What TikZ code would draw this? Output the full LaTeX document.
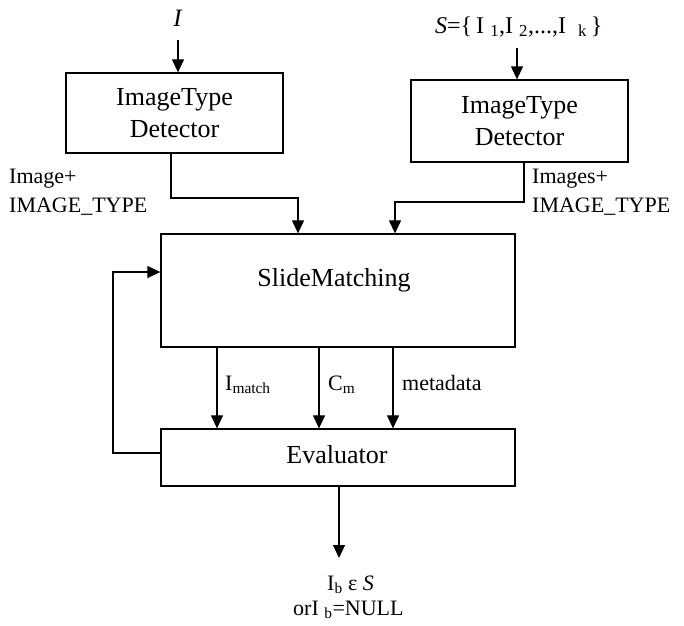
\documentclass[tikz,border=0pt]{standalone}
\usepackage{fontspec}
\setmainfont{Liberation Serif}
\usetikzlibrary{arrows.meta}
\begin{document}
\begin{tikzpicture}[x=1pt,y=-1pt,
  box/.style={draw, line width=1.3pt, inner sep=0pt, align=center, font=\fontsize{26}{32}\selectfont},
  lab/.style={inner sep=0pt, font=\fontsize{22}{28}\selectfont},
  big/.style={inner sep=0pt, font=\fontsize{26}{32}\selectfont},
  arr/.style={line width=1.2pt, -{Triangle[width=12pt,length=13pt]}}]
\useasboundingbox (0,0) rectangle (684,625);
% boxes
\node[box, minimum width=217pt, minimum height=80pt] (det1) at (174.5,113) {ImageType\\Detector};
\node[box, minimum width=217pt, minimum height=82pt] (det2) at (519.5,121) {ImageType\\Detector};
\node[box, minimum width=354pt, minimum height=113pt] (sm) at (338,290.5) {};
\node[big, anchor=base] (smt) at (334,286) {SlideMatching};
\node[box, minimum width=354pt, minimum height=57pt] (ev) at (338,457.5) {};
\node[big, anchor=base] (evt) at (337,463) {Evaluator};
% inputs
\node[lab, anchor=base, font=\fontsize{25}{28}\selectfont] (Ilab) at (178,26) {\textit{I}};
\coordinate (Ist) at (178,40);
\draw[arr] (Ist) -- (Ist |- det1.north);
\node[lab, anchor=base west, font=\fontsize{24}{28}\selectfont] (Slab) at (435,33) {\textit{S}=\{\,I\hspace{6pt}\textsubscript{1},I\hspace{6pt}\textsubscript{2},...,I\hspace{12pt}\textsubscript{k}\,\}};
\coordinate (Sst) at (517,48);
\draw[arr] (Sst) -- (Sst |- det2.north);
% detector outputs
\coordinate (d1o) at (171,153);
\coordinate (d1k) at (171,198);
\coordinate (d1e) at (298,198);
\draw[arr] (d1o) -- (d1k) -- (d1e) -- (d1e |- sm.north);
\coordinate (d2o) at (524,162);
\coordinate (d2k) at (524,202);
\coordinate (d2e) at (395,202);
\draw[arr] (d2o) -- (d2k) -- (d2e) -- (d2e |- sm.north);
\node[lab, anchor=base west] (l1a) at (9,183) {Image+};
\node[lab, anchor=base west] (l1b) at (9,212) {IMAGE\_TYPE};
\node[lab, anchor=base west] (l2a) at (532,183) {Images+};
\node[lab, anchor=base west] (l2b) at (532,212) {IMAGE\_TYPE};
% slide matching to evaluator
\coordinate (a1) at (217,347);
\coordinate (a2) at (319,347);
\coordinate (a3) at (393,347);
\draw[arr] (a1) -- (a1 |- ev.north);
\draw[arr] (a2) -- (a2 |- ev.north);
\draw[arr] (a3) -- (a3 |- ev.north);
\node[lab, anchor=base west] (m1) at (225,390) {I\textsubscript{match}};
\node[lab, anchor=base west] (m2) at (328,390) {C\textsubscript{m}};
\node[lab, anchor=base west] (m3) at (402,390) {metadata};
% feedback
\coordinate (fb1) at (113,453);
\coordinate (fb2) at (113,272);
\draw[arr] (ev.west |- fb1) -- (fb1) -- (fb2) -- (sm.west |- fb2);
% output
\coordinate (o1) at (339,486);
\coordinate (o2) at (339,558);
\draw[arr] (o1) -- (o2);
\node[lab, anchor=base west] (r1) at (327,590) {I\textsubscript{b} ε \textit{S}};
\node[lab, anchor=base west] (r2) at (293,615) {orI \textsubscript{b}=NULL};
\end{tikzpicture}
\end{document}
